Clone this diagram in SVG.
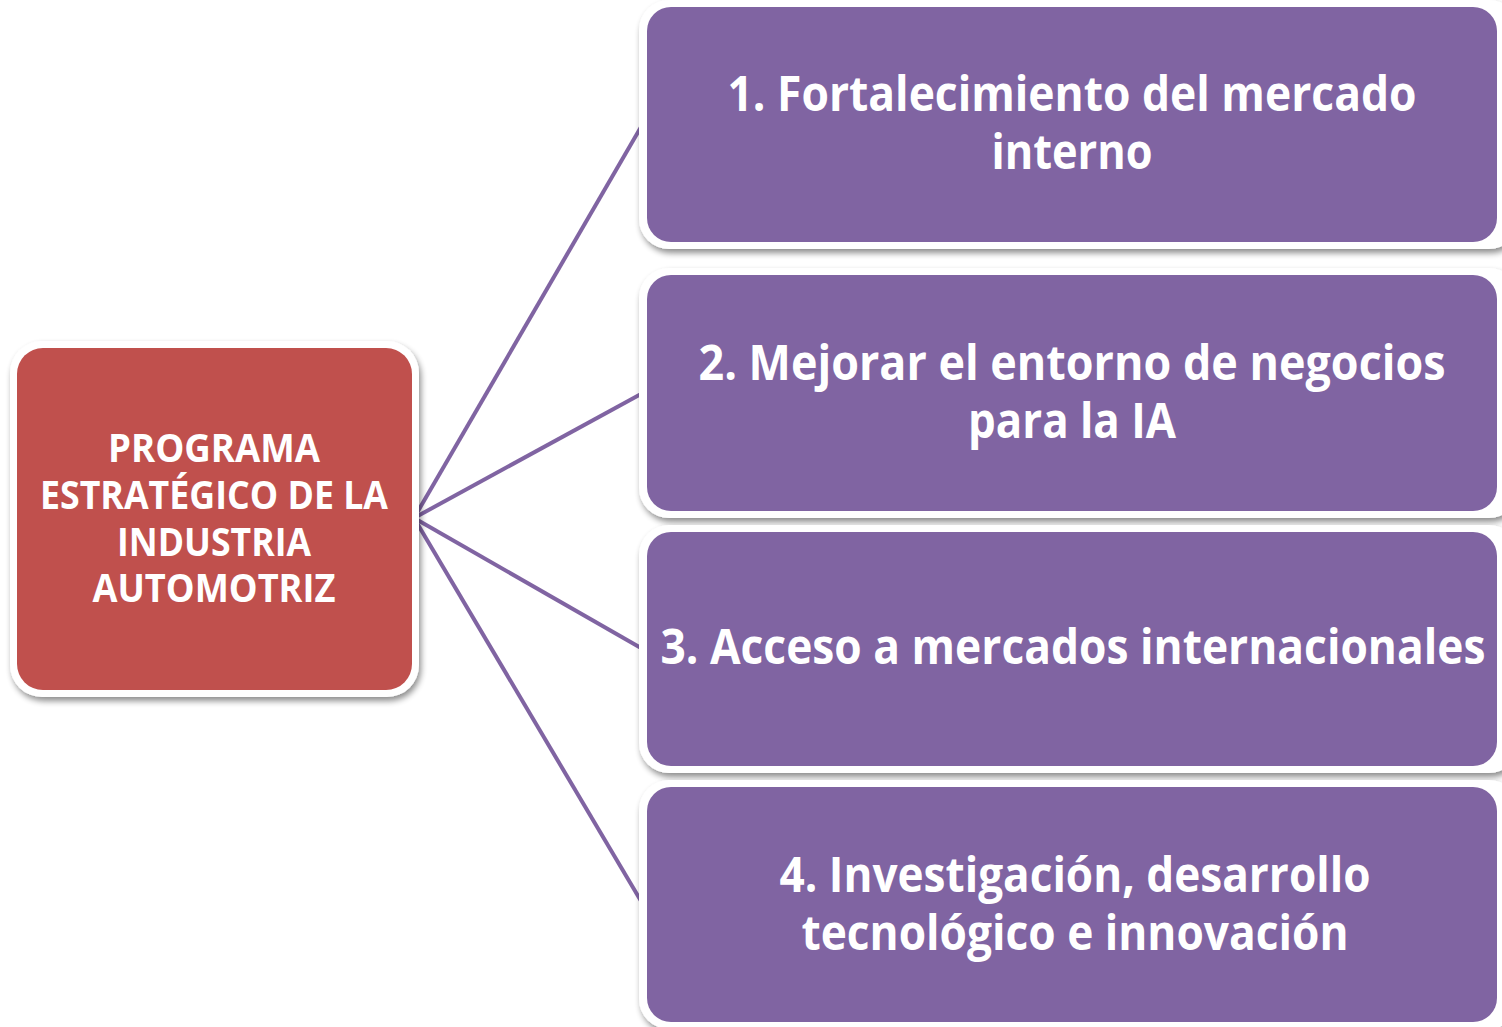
<svg xmlns="http://www.w3.org/2000/svg" width="1502" height="1027" viewBox="0 0 1502 1027">
<defs>
<filter id="sh" x="-10%" y="-10%" width="125%" height="130%">
<feGaussianBlur in="SourceAlpha" stdDeviation="3"/>
<feOffset dx="2" dy="4"/>
<feComponentTransfer><feFuncA type="linear" slope="0.45"/></feComponentTransfer>
<feMerge><feMergeNode/><feMergeNode in="SourceGraphic"/></feMerge>
</filter>
</defs>
<style>
.frame{fill:#ffffff;filter:url(#sh)}
.purple{fill:#8064A2}
.red{fill:#C0504D}
.t{font-family:"Open Sans","Noto Sans","DejaVu Sans",sans-serif;font-weight:700;fill:#ffffff;text-anchor:middle}
.big{font-size:48px}
.small{font-size:40px}
.con{stroke:#8064A2;stroke-width:4;fill:none}
</style>
<rect width="1502" height="1027" fill="#ffffff"/>
<g id="connectors">
<line class="con" x1="414" y1="518" x2="641" y2="127"/>
<line class="con" x1="414" y1="518" x2="641" y2="394"/>
<line class="con" x1="414" y1="518" x2="641" y2="648"/>
<line class="con" x1="414" y1="518" x2="641" y2="901"/>
</g>
<g id="root">
<rect class="frame" x="10" y="341" width="409" height="356" rx="32"/>
<rect class="red" x="17" y="348" width="395" height="342" rx="26"/>
<text class="t small" x="214" y="462" textLength="212" lengthAdjust="spacingAndGlyphs">PROGRAMA</text>
<text class="t small" x="214" y="509" textLength="348" lengthAdjust="spacingAndGlyphs">ESTRATÉGICO DE LA</text>
<text class="t small" x="214" y="556" textLength="194" lengthAdjust="spacingAndGlyphs">INDUSTRIA</text>
<text class="t small" x="214" y="602" textLength="243" lengthAdjust="spacingAndGlyphs">AUTOMOTRIZ</text>
</g>
<g id="n1">
<rect class="frame" x="639" y="0" width="880" height="249" rx="30"/>
<rect class="purple" x="647" y="7" width="850" height="235" rx="24"/>
<text class="t big" x="1072" y="111" textLength="689" lengthAdjust="spacingAndGlyphs">1. Fortalecimiento del mercado</text>
<text class="t big" x="1072" y="169" textLength="161" lengthAdjust="spacingAndGlyphs">interno</text>
</g>
<g id="n2">
<rect class="frame" x="639" y="268" width="880" height="250" rx="30"/>
<rect class="purple" x="647" y="275" width="850" height="236" rx="24"/>
<text class="t big" x="1072" y="380" textLength="747" lengthAdjust="spacingAndGlyphs">2. Mejorar el entorno de negocios</text>
<text class="t big" x="1072" y="438" textLength="208" lengthAdjust="spacingAndGlyphs">para la IA</text>
</g>
<g id="n3">
<rect class="frame" x="639" y="525" width="880" height="248" rx="30"/>
<rect class="purple" x="647" y="532" width="850" height="234" rx="24"/>
<text class="t big" x="1073" y="664" textLength="825" lengthAdjust="spacingAndGlyphs">3. Acceso a mercados internacionales</text>
</g>
<g id="n4">
<rect class="frame" x="639" y="780" width="880" height="249" rx="30"/>
<rect class="purple" x="647" y="787" width="850" height="235" rx="24"/>
<text class="t big" x="1075" y="892" textLength="591" lengthAdjust="spacingAndGlyphs">4. Investigación, desarrollo</text>
<text class="t big" x="1075" y="950" textLength="547" lengthAdjust="spacingAndGlyphs">tecnológico e innovación</text>
</g>
</svg>
